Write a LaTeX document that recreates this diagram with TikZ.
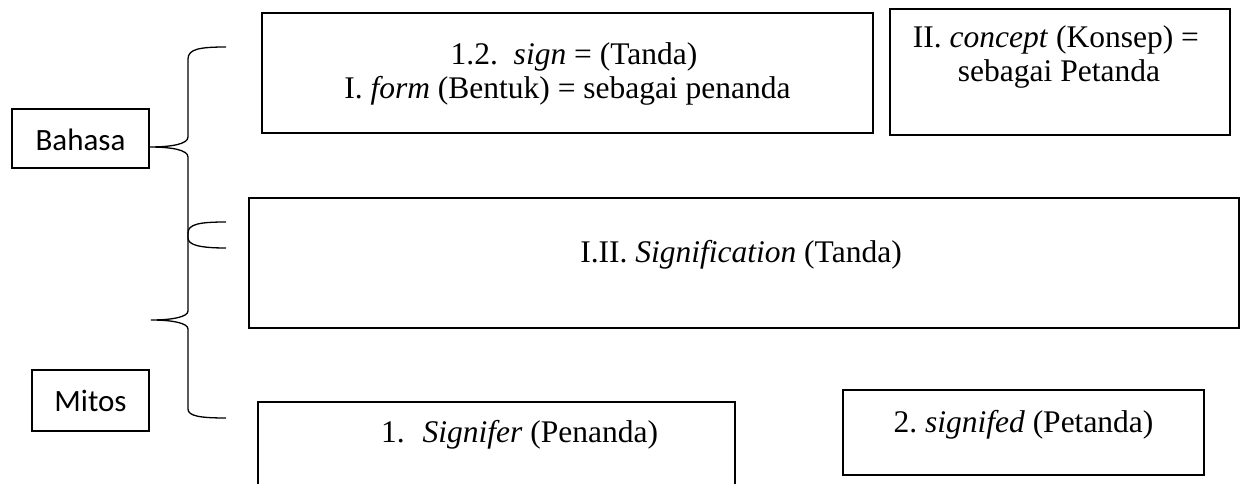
\documentclass[tikz,border=0pt]{standalone}
\usepackage{fontspec}
\setmainfont{Liberation Serif}
\newfontfamily\calibrifont{Carlito}
\frenchspacing
\begin{document}
\begin{tikzpicture}[x=1pt,y=-1pt,
  box/.style={draw=black, line width=2pt, inner sep=0pt, outer sep=0pt},
  txt/.style={inner sep=0pt, outer sep=0pt, font=\fontsize{31.5}{34}\selectfont, anchor=base},
  sanstxt/.style={inner sep=0pt, outer sep=0pt, font=\calibrifont\fontsize{31}{34}\selectfont, anchor=base},
  bracestyle/.style={draw=black, line width=1.3pt}]
\useasboundingbox (0,0) rectangle (1243,484);
\clip (0,0) rectangle (1243,484);
\fill[white] (0,0) rectangle (1243,484);

% left labels
\node[box, minimum width=137pt, minimum height=59pt] (bahasa) at (80.5,138.5) {};
\node[sanstxt] (bahasatxt) at (80.5,151) {Bahasa};
\node[box, minimum width=117pt, minimum height=61pt] (mitos) at (90.5,400.5) {};
\node[sanstxt] (mitostxt) at (90.5,411) {Mitos};

% top boxes
\node[box, minimum width=611pt, minimum height=120pt] (sign) at (567.5,73) {};
\node[txt] (signa) at (574,65) {1.2.\ \ \textit{sign} = (Tanda)};
\node[txt] (signb) at (567.5,99) {I. \textit{form} (Bentuk) = sebagai penanda};

\node[box, minimum width=340pt, minimum height=126pt] (concept) at (1060,72) {};
\node[txt] (concepta) at (1056,48) {II. \textit{concept} (Konsep) =};
\node[txt] (conceptb) at (1059,82) {sebagai Petanda};

% middle box
\node[box, minimum width=990pt, minimum height=130pt] (signif) at (744,263) {};
\node[txt] (signiftxt) at (741,262) {I.II. \textit{Signification} (Tanda)};

% bottom boxes
\node[box, minimum width=477pt, minimum height=98pt] (signifer) at (496.5,451) {};
\node[txt, anchor=base west] (signifertxt) at (381,442) {1.\hspace{18pt}\textit{Signifer} (Penanda)};
\node[box, minimum width=361pt, minimum height=85pt] (signifed) at (1023.5,432.5) {};
\node[txt] (signifedtxt) at (1023.5,432) {2. \textit{signifed} (Petanda)};

% braces
\coordinate (b1top) at (226,47);
\coordinate (b1tip) at (149,147);
\coordinate (b1bot) at (226,248);
\draw[bracestyle] (b1top) .. controls (200,47) and (188,49) .. (188,59) -- (188,137)
  .. controls (188,144) and (172,147) .. (b1tip)
  .. controls (172,147) and (188,150) .. (188,157) -- (188,238)
  .. controls (188,245) and (200,248) .. (b1bot);

\coordinate (b2top) at (226,222);
\coordinate (b2tip) at (151,320);
\coordinate (b2bot) at (226,418);
\draw[bracestyle] (b2top) .. controls (200,222) and (188,224) .. (188,233) -- (188,311)
  .. controls (188,317) and (172,320) .. (b2tip)
  .. controls (172,320) and (188,323) .. (188,329) -- (188,409)
  .. controls (188,416) and (200,418) .. (b2bot);
\end{tikzpicture}
\end{document}
